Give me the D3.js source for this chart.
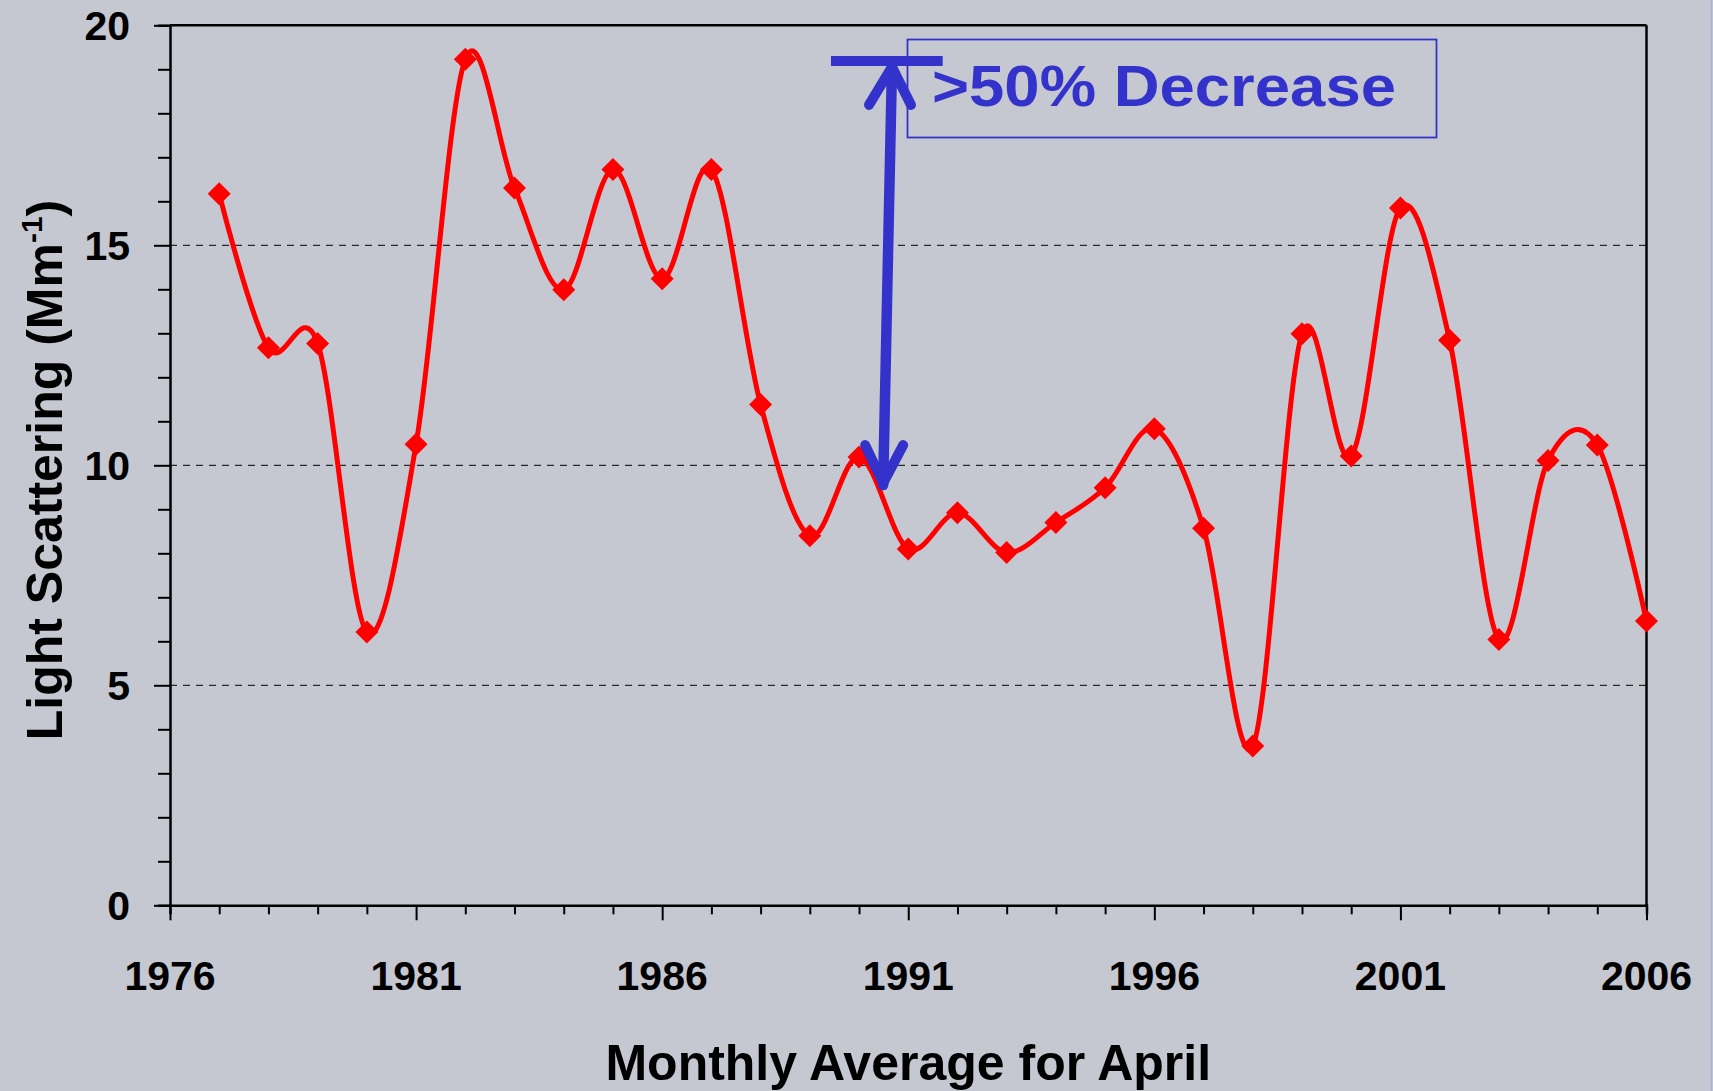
<!DOCTYPE html>
<html>
<head>
<meta charset="utf-8">
<script src="https://cdn.jsdelivr.net/npm/d3@7"></script>
<style>
  html, body { margin: 0; padding: 0; background: #c5c8d0; }
  svg { display: block; }
  text { font-family: "Liberation Sans", Arial, sans-serif; font-weight: bold; }
</style>
</head>
<body>
<svg id="chart" width="1713" height="1091"></svg>
<script>
// ---- data ----
const years = [1977,1978,1979,1980,1981,1982,1983,1984,1985,1986,1987,1988,1989,1990,1991,
               1992,1993,1994,1995,1996,1997,1998,1999,2000,2001,2002,2003,2004,2005,2006];
const scattering = [16.17,12.67,12.77,6.21,10.48,19.23,16.30,13.99,16.72,14.24,16.72,11.38,8.40,10.19,8.10,
                    8.92,8.02,8.70,9.49,10.83,8.57,3.62,12.99,10.21,15.85,12.84,6.04,10.11,10.46,6.46];
const xTickLabels = [1976,1981,1986,1991,1996,2001,2006];
const yTickLabels = [0,5,10,15,20];
const gridValues = [5,10,15];
const annotationText = ">50% Decrease";

const svg = d3.select("#chart");
const W = 1713, H = 1091;
svg.append("rect").attr("width", W).attr("height", H).attr("fill", "#c5c8d0");
// slide edge
svg.append("line").attr("x1", 1711.5).attr("x2", 1711.5).attr("y1", 0).attr("y2", H)
   .attr("stroke", "#a9b6d2").attr("stroke-width", 1.5);

const L = 170, R = 1646.5, T = 25.3, B = 905.3;
const x = d3.scaleLinear().domain([1976, 2006]).range([L, R]);
const y = d3.scaleLinear().domain([0, 20]).range([B, T]);

// grid lines
svg.append("g").selectAll("line").data(gridValues).join("line")
  .attr("x1", L).attr("x2", R).attr("y1", d => y(d)).attr("y2", d => y(d))
  .attr("stroke", "#000").attr("stroke-width", 1).attr("stroke-dasharray", "7,6");

// frame top & right
svg.append("line").attr("x1", L).attr("x2", R).attr("y1", T).attr("y2", T)
  .attr("stroke", "#000").attr("stroke-width", 2.5);
svg.append("line").attr("x1", R).attr("x2", R).attr("y1", T).attr("y2", B)
  .attr("stroke", "#000").attr("stroke-width", 2.5);

// y axis
const yAxis = svg.append("g").attr("transform", `translate(${L},0)`)
  .call(d3.axisLeft(y).tickValues(d3.range(0, 21, 1)).tickFormat("").tickSizeOuter(0)
        .tickSize(12));
yAxis.selectAll(".tick line").attr("stroke-width", 2)
  .attr("x2", d => d % 5 === 0 ? -16 : -12);
yAxis.select(".domain").attr("stroke-width", 2.5);
svg.append("g").selectAll("text").data(yTickLabels).join("text")
  .attr("x", 130).attr("y", d => y(d) + 14.5).attr("text-anchor", "end")
  .attr("font-size", 41).attr("fill", "#000").text(d => d);

// x axis
const xAxis = svg.append("g").attr("transform", `translate(0,${B})`)
  .call(d3.axisBottom(x).tickValues(d3.range(1976, 2007, 1)).tickFormat("").tickSizeOuter(0)
        .tickSize(9));
xAxis.selectAll(".tick line").attr("stroke-width", 2)
  .attr("y2", d => (d - 1976) % 5 === 0 ? 15 : 9);
xAxis.select(".domain").attr("stroke-width", 2.5);
svg.append("g").selectAll("text").data(xTickLabels).join("text")
  .attr("x", d => x(d)).attr("y", 990).attr("text-anchor", "middle")
  .attr("font-size", 41).attr("fill", "#000").text(d => d);

// axis titles
svg.append("text").attr("x", (L + R) / 2).attr("y", 1080).attr("text-anchor", "middle")
  .attr("font-size", 50).attr("fill", "#000").text("Monthly Average for April");
const yt = svg.append("text").attr("transform", "translate(62,470) rotate(-90)")
  .attr("text-anchor", "middle").attr("font-size", 50).attr("fill", "#000");
yt.append("tspan").text("Light Scattering (Mm");
yt.append("tspan").attr("font-size", 30).attr("dy", -20).text("-1");
yt.append("tspan").attr("dy", 20).text(")");

// line
const pts = years.map((yr, i) => [yr, scattering[i]]);
const line = d3.line().x(d => x(d[0])).y(d => y(d[1])).curve(d3.curveCatmullRom.alpha(0));
svg.append("path").datum(pts).attr("d", line).attr("fill", "none")
  .attr("stroke", "#ff0000").attr("stroke-width", 5).attr("stroke-linejoin", "round");

// diamond markers
const r = 11.5;
svg.append("g").selectAll("path").data(pts).join("path")
  .attr("d", d => {
    const cx = x(d[0]), cy = y(d[1]);
    return `M${cx},${cy - r}L${cx + r},${cy}L${cx},${cy + r}L${cx - r},${cy}Z`;
  })
  .attr("fill", "#ff0000");

// annotation (positions in data coordinates)
const blue = "#3333cc";
const ann = svg.append("g").attr("stroke", blue).attr("fill", "none")
  .attr("stroke-linecap", "round").attr("stroke-linejoin", "round");
// horizontal bar
svg.append("line").attr("x1", x(1989.43)).attr("x2", x(1991.7))
  .attr("y1", y(19.19)).attr("y2", y(19.19)).attr("stroke", blue).attr("stroke-width", 10);
const topTip = [1990.67, 19.1], botTip = [1990.49, 9.55];
ann.append("line").attr("x1", x(topTip[0])).attr("y1", y(topTip[1]))
  .attr("x2", x(botTip[0])).attr("y2", y(botTip[1])).attr("stroke-width", 10.5);
ann.append("path").attr("stroke-width", 10)
  .attr("d", `M${x(topTip[0]) - 23},${y(topTip[1]) + 40}L${x(topTip[0])},${y(topTip[1]) + 2}L${x(topTip[0]) + 19},${y(topTip[1]) + 40}`);
ann.append("path").attr("stroke-width", 10)
  .attr("d", `M${x(botTip[0]) - 18},${y(botTip[1]) - 40}L${x(botTip[0])},${y(botTip[1]) - 2}L${x(botTip[0]) + 20},${y(botTip[1]) - 40}`);
// box
svg.append("rect").attr("x", 907.5).attr("y", 39.5).attr("width", 529).attr("height", 98)
  .attr("fill", "none").attr("stroke", blue).attr("stroke-width", 1.8);
svg.append("text").attr("x", 932).attr("y", 106).attr("font-size", 58).attr("fill", blue)
  .attr("textLength", 464).attr("lengthAdjust", "spacingAndGlyphs").text(annotationText);
</script>
</body>
</html>
